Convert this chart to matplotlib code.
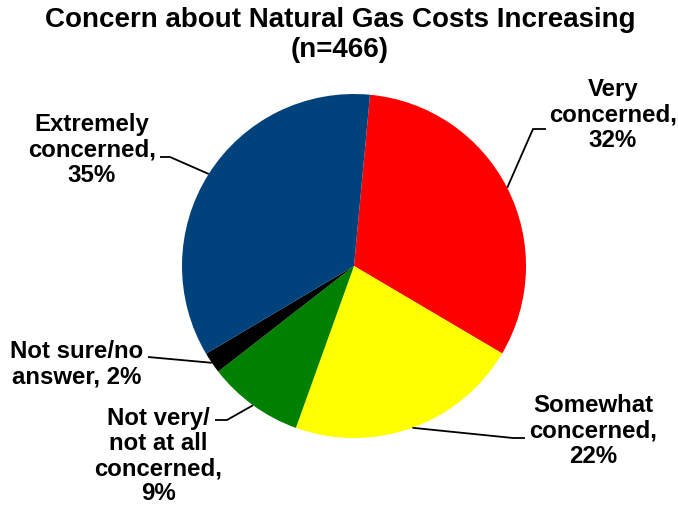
import numpy as np
import matplotlib
matplotlib.use("Agg")
import matplotlib.pyplot as plt

categories = ["Very\nconcerned,\n32%", "Somewhat\nconcerned,\n22%",
              "Not very/\nnot at all\nconcerned,\n9%", "Not sure/no\nanswer, 2%",
              "Extremely\nconcerned,\n35%"]
values = [32, 22, 9, 2, 35]
colors = ["#FF0000", "#FFFF00", "#008000", "#000000", "#00427C"]

W, H = 678, 508
fig = plt.figure(figsize=(W / 100, H / 100), dpi=100)
ax = fig.add_axes([0, 0, 1, 1])

cx, cy, r = 354, H - 266, 172
start = 84.65
wedges, _ = ax.pie(values, colors=colors, startangle=start, counterclock=False,
                   center=(cx, cy), radius=r, wedgeprops=dict(linewidth=0))

# label layout (pixel positions, y from top)
label_pos = [(613, 115), (593, 431), (158, 456), (77, 364), (92, 150)]
leader_pts = [[(533, 129), (546, 129)],
              [(513, 438), (525, 438)],
              [(227, 420), (215, 420)],
              [(148, 357)],
              [(170, 157), (160, 157)]]

font = dict(family="Liberation Sans", weight="bold", size=17.3)
for w, lab, (lx, ly), pts in zip(wedges, categories, label_pos, leader_pts):
    mid = np.deg2rad((w.theta1 + w.theta2) / 2)
    ex, ey = cx + r * np.cos(mid), cy + r * np.sin(mid)
    xs = [ex] + [p[0] for p in pts]
    ys = [ey] + [H - p[1] for p in pts]
    ax.plot(xs, ys, color="black", lw=1.3, solid_capstyle="butt")
    ax.text(lx, H - ly, lab, ha="center", va="center", multialignment="center",
            linespacing=1.12, **font)

ax.text(340, H - 35, "Concern about Natural Gas Costs Increasing\n(n=466)",
        ha="center", va="center", linespacing=1.2,
        family="Liberation Sans", weight="bold", size=20)

ax.set_xlim(0, W)
ax.set_ylim(0, H)
ax.set_aspect("auto")
ax.axis("off")
fig.savefig("out.png", dpi=100, facecolor="white")
